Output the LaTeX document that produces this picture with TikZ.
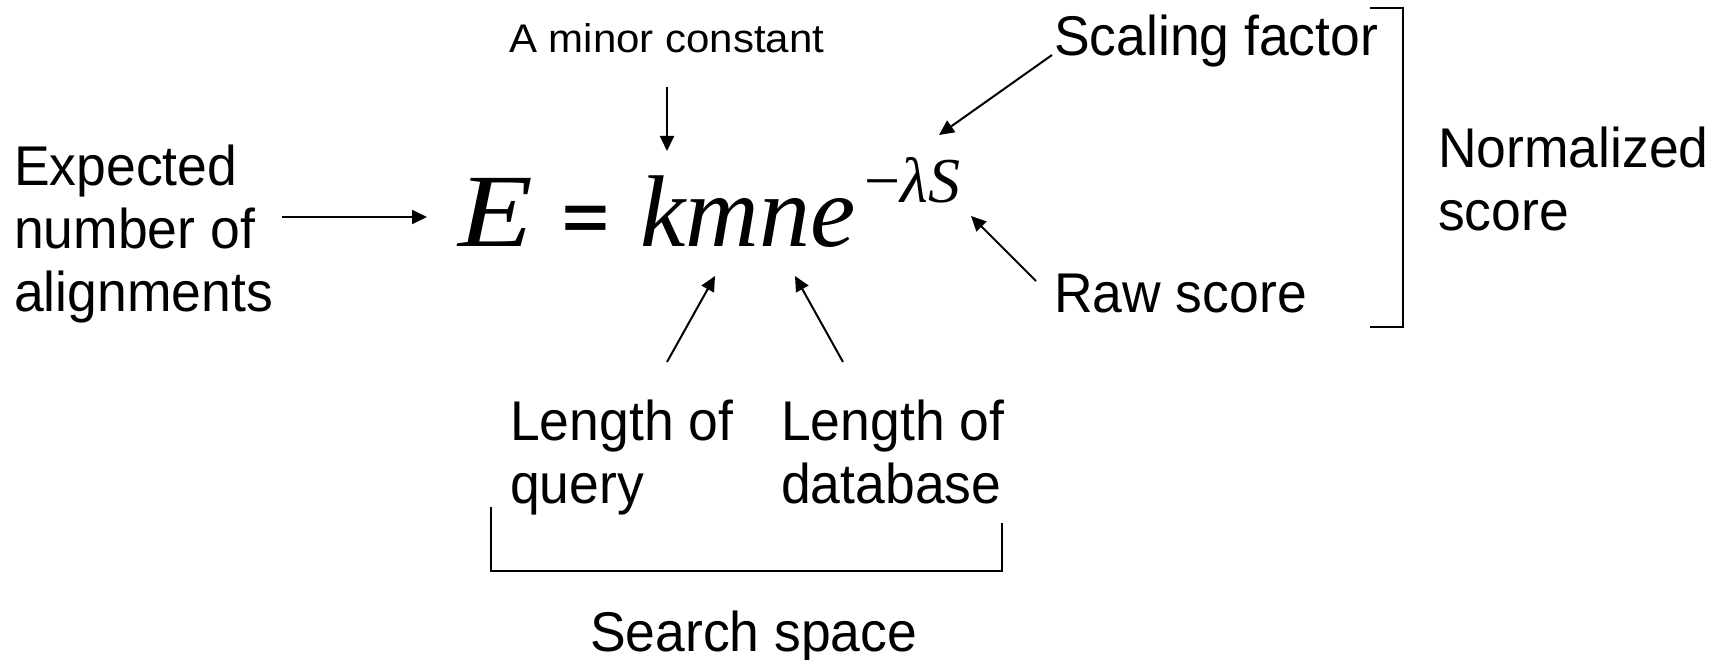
\documentclass[tikz,border=0pt]{standalone}
\usepackage{fontspec}
\usepackage{graphicx}
\setmainfont{Liberation Sans}
\newfontfamily\lblfont[FakeStretch=0.955]{Liberation Sans}
\newfontfamily\smallfont[FakeStretch=1.05]{Liberation Sans}
\newfontfamily\eqfont{Liberation Serif}
\usetikzlibrary{arrows.meta}

\begin{document}
\begin{tikzpicture}[x=1pt,y=-1pt,
  lbl/.style={font=\lblfont\fontsize{56}{63}\selectfont, inner sep=0pt,
              anchor=base west, align=left},
  small/.style={font=\smallfont\fontsize{40}{46}\selectfont, inner sep=0pt,
              anchor=base west},
  eq/.style={font=\eqfont\itshape\fontsize{102}{102}\selectfont, inner sep=0pt,
              anchor=base west},
  sup/.style={font=\eqfont\itshape\fontsize{64}{64}\selectfont, inner sep=0pt,
              anchor=base west},
  pointer/.style={line width=2pt, -{Triangle[length=15pt,width=14pt]}},
  bracket/.style={line width=2pt},
]
\useasboundingbox (0,0) rectangle (1723,660);

% the formula
\node[eq] (E) at (458,247) {\scalebox{1.2}[1.02]{E}};
\node[font=\bfseries\fontsize{80}{80}\selectfont, inner sep=0pt, anchor=base]
  (eqsign) at (586,240) {\scalebox{1}[0.8]{=}};
\node[eq] (kmne) at (640,247) {kmne};
\node[sup] (expo) at (864,203) {{\upshape −}λS};

% labels (base = baseline of the last line)
\node[lbl] (expected) at (14,311) {Expected\\number of\\alignments};
\node[small] (minor) at (509,53) {A minor constant};
\node[lbl] (scaling) at (1054,56) {Scaling factor};
\node[lbl] (raw) at (1054,312) {Raw score};
\node[lbl] (norm) at (1438,231) {Normalized\\score};
\node[lbl] (lquery) at (510,503) {Length of\\query};
\node[lbl] (ldb) at (781,503) {Length of\\database};
\node[lbl] (search) at (590,651) {Search space};

% arrow ends
\coordinate (expS) at (282,217);  \coordinate (expT) at (427,217);
\coordinate (minS) at (667,87);   \coordinate (minT) at (667,151);
\coordinate (scS)  at (1052,55);  \coordinate (scT)  at (939,135);
\coordinate (rawS) at (1036,281); \coordinate (rawT) at (971,216);
\coordinate (lqS)  at (667,362);  \coordinate (lqT)  at (715,276);
\coordinate (ldS)  at (843,362);  \coordinate (ldT)  at (795,276);

\draw[pointer] (expS) -- (expT);
\draw[pointer] (minS) -- (minT);
\draw[pointer] (scS) -- (scT);
\draw[pointer] (rawS) -- (rawT);
\draw[pointer] (lqS) -- (lqT);
\draw[pointer] (ldS) -- (ldT);

% brackets
\coordinate (nbTop) at (1370,8);  \coordinate (nbBot) at (1370,327);
\draw[bracket] (nbTop) -- (1403,8) -- (1403,327) -- (nbBot);
\coordinate (sbL) at (491,507); \coordinate (sbR) at (1002,523);
\draw[bracket] (sbL) -- (491,571) -- (1002,571) -- (sbR);
\end{tikzpicture}
\end{document}
